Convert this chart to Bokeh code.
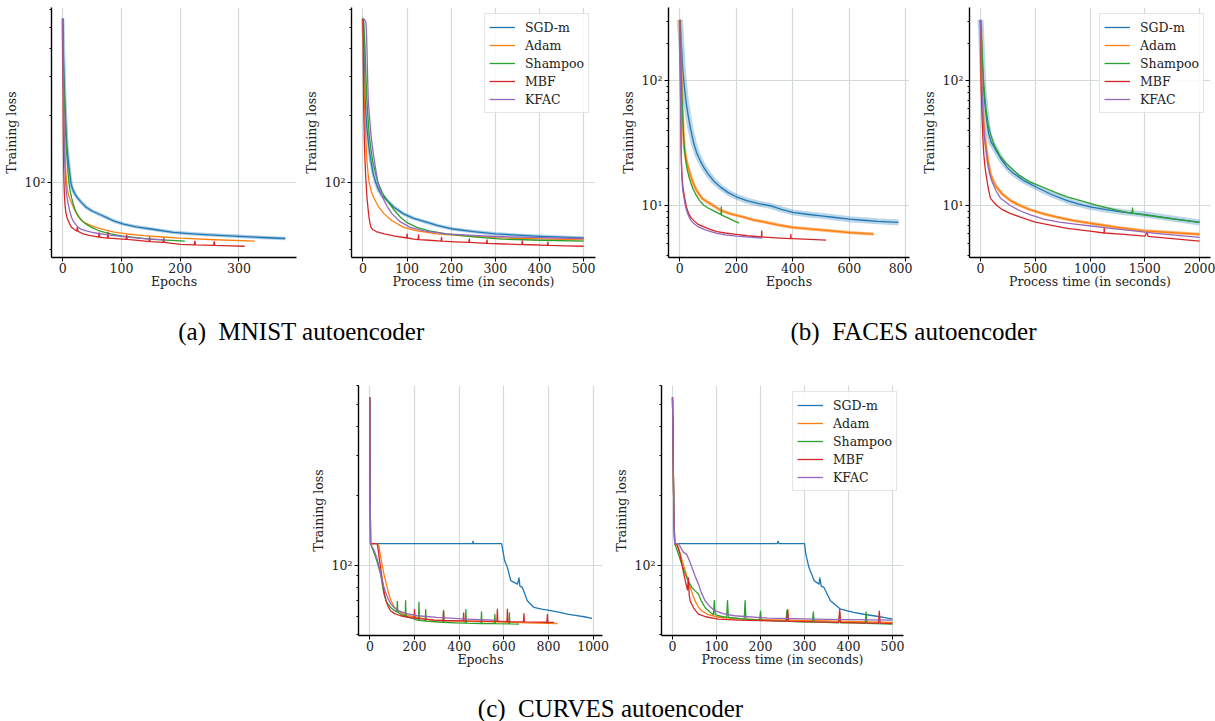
from bokeh.plotting import figure
from bokeh.models import (Range1d, FixedTicker, CustomJSTickFormatter, Legend,
                          LegendItem, Label, Spacer)
from bokeh.layouts import row, column
from bokeh.embed import file_html
from bokeh.resources import INLINE

# ---------------- data ----------------
methods = ["SGD-m", "Adam", "Shampoo", "MBF", "KFAC"]
colors = ["#1f77b4", "#ff7f0e", "#2ca02c", "#d62728", "#9467bd"]

# MNIST, epochs
mnist_ep_sgd_x = [0, 0.5, 1, 1.5, 2, 2.7, 3.4, 4.5, 5.6, 7, 8, 9.5, 11, 12.5, 14, 16, 18, 20.7, 25, 30,
                  34.6, 40, 50, 62.6, 75, 88, 104, 125, 150, 188, 220, 250, 300, 340, 379]
mnist_ep_sgd_y = [548, 480, 420, 370, 330, 285, 251, 210, 177, 150, 138, 126, 116, 107, 100, 95, 92, 89,
                  85.5, 82.5, 80, 77.5, 74.5, 72, 69.5, 67, 65, 63.2, 61.8, 59.7, 58.8, 58.2, 57.3, 56.6, 56.0]
mnist_ep_adam_x = [0, 0.5, 1, 1.5, 2, 2.5, 3, 3.7, 4.5, 5.5, 6.7, 8, 10, 12.5, 16, 20, 26, 32, 40, 48.6,
                   60, 75, 88, 110, 138, 170, 200, 260, 327]
mnist_ep_adam_y = [548, 420, 330, 270, 220, 188, 160, 140, 125, 110, 100, 93, 88, 84, 80, 75.5, 70.5,
                   67.5, 65.5, 64, 62.5, 61, 59.8, 58.7, 57.7, 56.9, 56.2, 55.3, 54.5]
mnist_ep_sham_x = [0, 0.5, 1, 1.5, 2, 2.5, 3, 3.9, 4.7, 5.5, 6.5, 7.8, 9, 10.6, 12.5, 15, 18, 22, 28, 35,
                   42, 48.6, 60, 70, 82, 100, 121, 140, 160, 185, 208]
mnist_ep_sham_y = [548, 450, 380, 310, 260, 235, 222, 211, 185, 160, 140, 126, 112, 100, 92, 86, 80,
                   74.5, 69.8, 66.5, 64.5, 63, 61, 59.8, 58.7, 57.6, 56.7, 56, 55.4, 54.9, 54.5]
mnist_ep_mbf_x = [0, 0.25, 0.5, 0.75, 1, 1.25, 1.5, 1.8, 2.2, 3, 3.9, 5, 6, 7.5, 9.5, 12, 15, 20, 24, 25,
                  26, 29, 35, 45, 55, 61, 62, 63, 65, 76, 77, 78, 90, 108, 109, 110, 132, 147, 148, 149,
                  171, 172, 173, 200, 224, 225, 226, 257, 258, 259, 285, 310]
mnist_ep_mbf_y = [548, 400, 300, 230, 180, 150, 130, 113, 100, 88, 80, 75, 72, 69.5, 67.4, 65, 63, 61.5,
                  60.5, 63, 60.4, 59.8, 58.8, 57.8, 57.2, 56.8, 59.5, 56.8, 56.7, 56.2, 59.8, 56.2, 55.9,
                  55.5, 58, 55.5, 54.8, 54.2, 56.8, 54.2, 53.8, 56.2, 53.8, 52.7, 52.4, 54.5, 52.4, 52.2,
                  54.2, 52.2, 51.9, 51.7]
mnist_ep_kfac_x = [0, 0.5, 1, 1.5, 2, 2.5, 3, 4, 5, 6, 7.5, 9.5, 12, 15, 18, 22, 26, 32, 40, 48.6, 60,
                   75, 88, 110, 143, 175]
mnist_ep_kfac_y = [548, 400, 300, 240, 190, 160, 140, 116, 100, 92, 86, 80, 74.5, 69.8, 67, 64.8, 63,
                   61.5, 60.6, 59.8, 59, 58.3, 57.7, 56.8, 55.8, 55.2]

# MNIST, process time
mnist_t_sgd_x = [0, 1, 2, 3, 4.5, 5.5, 7, 8.5, 10.4, 14, 18, 23, 29, 35, 42, 55, 70, 92, 115, 144, 170,
                 204, 250, 300, 350, 400, 450, 500]
mnist_t_sgd_y = [548, 480, 420, 340, 250, 225, 200, 180, 165, 142, 125, 110, 100, 93, 88, 83, 77.5,
                 72.3, 69, 66.3, 64, 61.8, 60.2, 58.8, 58, 57.3, 56.8, 56.3]
mnist_t_adam_x = [0, 0.75, 1.5, 2.2, 3, 4.5, 6, 7.5, 9, 11.5, 14, 19, 25, 35, 48, 65, 92, 120, 167, 230,
                  300, 400, 500]
mnist_t_adam_y = [548, 440, 350, 285, 234, 195, 165, 142, 125, 110, 100, 91, 85, 78, 72.3, 67.5, 62.9,
                  60.8, 58.8, 57.5, 56.5, 55.8, 55.2]
mnist_t_sham_x = [0, 1.5, 3, 4.5, 6, 7.5, 9, 11.5, 14, 18, 22, 28, 34, 44, 55, 70, 85, 100, 122, 150,
                  189, 250, 315, 400, 500]
mnist_t_sham_y = [548, 520, 468, 400, 330, 275, 234, 195, 165, 142, 125, 111, 100, 90, 83, 75.5, 69.8,
                  66, 62.9, 60.6, 58.8, 57, 55.7, 55, 54.5]
mnist_t_mbf_x = [0, 0.5, 1, 1.5, 2.2, 3, 4, 5, 6, 7, 9, 11, 13.5, 16, 18, 22, 30, 48, 70, 99, 100, 101,
                 115, 125, 126, 127, 150, 177, 178, 179, 210, 240, 241, 242, 280, 281, 282, 320, 360,
                 361, 362, 380, 418, 419, 420, 460, 500]
mnist_t_mbf_y = [548, 420, 300, 234, 190, 160, 135, 120, 108, 100, 86, 78, 70, 65.5, 62.9, 61.5, 60.2,
                 58.8, 57.5, 56.3, 58.6, 56.3, 55.7, 55.4, 58.2, 55.4, 55, 54.5, 56.8, 54.5, 54.1, 53.8,
                 55.8, 53.8, 53.3, 55.2, 53.3, 52.9, 52.6, 54.6, 52.6, 52.5, 52.2, 54.0, 52.2, 51.9, 51.7]
mnist_t_kfac_x = [0, 4, 6, 7, 8, 9, 10.5, 12, 15, 18, 22, 26, 30, 34, 39, 45, 55, 66, 85, 107, 140, 189,
                  250, 300, 400, 500]
mnist_t_kfac_y = [548, 540, 530, 520, 470, 400, 300, 234, 195, 165, 142, 125, 111, 100, 92, 85, 78,
                  72.3, 66.5, 62.9, 60.5, 58.8, 57.8, 57.2, 56.5, 56]

# FACES, epochs
faces_ep_sgd_x = [0, 1.5, 3.5, 5, 7, 8.5, 10, 12, 14, 17, 20, 23, 27, 32, 38, 44, 50, 60, 72, 85, 100,
                  120, 144, 170, 200, 237, 280, 319, 360, 400, 450, 500, 550, 600, 650, 700, 774]
faces_ep_sgd_y = [308, 275, 238, 205, 175, 150, 130, 114, 100, 86, 75, 66, 57.5, 49, 41.5, 36, 31.2,
                  26.5, 23, 20.3, 18, 15.8, 14.1, 12.8, 11.8, 11.0, 10.4, 10, 9.35, 8.85, 8.55, 8.3,
                  8.05, 7.8, 7.65, 7.5, 7.35]
faces_ep_adam_x = [0, 1.5, 3, 4.5, 5.8, 7.5, 9.4, 12, 15, 18, 22, 27, 33, 40, 50, 58, 68, 80, 95, 120,
                   144, 180, 226, 260, 300, 350, 400, 450, 500, 550, 600, 650, 686]
faces_ep_adam_y = [308, 240, 180, 130, 100, 75, 57, 41, 31.2, 27, 24, 21.3, 19.1, 16.8, 14.7, 13.5,
                   12.4, 11.4, 10.8, 10, 9.2, 8.6, 8.1, 7.7, 7.4, 7.0, 6.7, 6.55, 6.4, 6.25, 6.1, 6.0, 5.93]
faces_ep_sham_x = [0, 1.5, 3, 4.5, 5.8, 7.5, 9.4, 12, 15, 17.5, 20, 23, 27, 33, 40, 47, 56, 70, 85, 100,
                   120, 146, 147, 148, 170, 190, 210]
faces_ep_sham_y = [308, 240, 180, 130, 100, 75, 57, 41, 31.2, 27, 24, 21.3, 19.1, 16.8, 15, 13.6, 12.4,
                   11, 10.1, 9.6, 9.1, 8.5, 9.8, 8.4, 8.0, 7.6, 7.25]
faces_ep_mbf_x = [0, 0.75, 1.5, 2.2, 3, 3.8, 4.8, 5.8, 7, 9, 11.5, 15, 19, 25, 32, 40, 50, 65, 90, 110,
                  132, 160, 200, 240, 289, 290, 291, 300, 340, 392, 393, 394, 400, 460, 518]
faces_ep_mbf_y = [308, 220, 150, 100, 70, 45, 30, 22.9, 19, 16, 14, 12.4, 11, 9.5, 8.6, 8.0, 7.6, 7.1,
                  6.7, 6.45, 6.2, 6.05, 5.9, 5.75, 5.62, 6.3, 5.62, 5.6, 5.53, 5.45, 5.9, 5.45, 5.45,
                  5.37, 5.3]
faces_ep_kfac_x = [0, 0.75, 1.5, 2.2, 3, 3.8, 4.8, 5.8, 7, 9, 11.5, 15, 19, 25, 32, 40, 50, 65, 90, 110,
                   132, 160, 200, 245, 292]
faces_ep_kfac_y = [308, 210, 140, 95, 65, 42, 28, 21, 17.5, 14.5, 12.8, 11.5, 10.1, 9, 8.2, 7.6, 7.2,
                   6.8, 6.4, 6.2, 6.0, 5.85, 5.7, 5.6, 5.5]

# FACES, process time
faces_t_sgd_x = [0, 5, 10, 16, 24, 32, 45, 60, 76, 100, 125, 150, 190, 243, 300, 400, 517, 650, 791,
                 900, 1000, 1150, 1300, 1500, 1750, 2000]
faces_t_sgd_y = [308, 260, 200, 145, 100, 78, 60, 46, 37.5, 32, 29.5, 27, 23.5, 20.3, 18.2, 15.8, 14,
                 12.3, 11, 10.3, 9.8, 9.3, 8.9, 8.5, 7.9, 7.35]
faces_t_adam_x = [0, 3, 6, 9, 12, 18, 25, 35, 50, 70, 91, 120, 150, 200, 274, 365, 450, 578, 700, 850,
                  1065, 1250, 1492, 1750, 2000]
faces_t_adam_y = [308, 260, 200, 140, 100, 70, 50, 39, 30, 22.5, 18, 15.5, 14, 12.4, 11, 10, 9.3, 8.6,
                  8.1, 7.6, 7.1, 6.7, 6.3, 6.1, 5.9]
faces_t_sham_x = [0, 6, 12, 19, 28, 38, 50, 70, 91, 130, 180, 230, 274, 350, 450, 578, 700, 800, 913,
                  1100, 1250, 1383, 1388, 1393, 1600, 1800, 2000]
faces_t_sham_y = [308, 265, 200, 145, 100, 78, 60, 45, 37.5, 30, 25, 22, 20.3, 17.6, 15.5, 14, 12.6,
                  11.7, 11, 9.9, 9.2, 8.7, 9.6, 8.7, 8.2, 7.75, 7.35]
faces_t_mbf_x = [0, 1.5, 3, 4.5, 6, 10, 15, 22, 30, 40, 50, 70, 91, 120, 152, 200, 270, 365, 500, 650,
                 791, 1000, 1128, 1130, 1132, 1309, 1500, 1520, 1530, 1750, 2000]
faces_t_mbf_y = [308, 260, 200, 140, 100, 70, 50, 35, 26, 21, 18, 14, 11.5, 10.7, 10, 9.3, 8.7, 8.1,
                 7.4, 6.95, 6.6, 6.25, 6.05, 6.6, 6.05, 5.9, 5.7, 6.1, 5.68, 5.45, 5.2]
faces_t_kfac_x = [0, 3, 6, 9, 12, 18, 25, 35, 50, 70, 100, 140, 183, 230, 274, 350, 450, 578, 720, 883,
                  1030, 1187, 1400, 1600, 1800, 2000]
faces_t_kfac_y = [308, 260, 200, 140, 100, 70, 50, 36, 28, 20.5, 16, 13.3, 11.5, 10.7, 10, 9.2, 8.5,
                  7.8, 7.4, 7.1, 6.85, 6.6, 6.3, 6.0, 5.78, 5.57]

# CURVES, epochs
curves_ep_sgd_x = [0, 1, 2, 3, 460, 462, 464, 590, 596, 604, 616, 631, 661, 668, 672, 683, 705, 735,
                   770, 810, 850, 885, 920, 960, 995]
curves_ep_sgd_y = [535, 300, 170, 124, 124, 127, 124, 124, 115, 104, 97.7, 85.5, 82.6, 88, 81, 80, 70,
                   65.4, 64.3, 63.3, 62.2, 61.2, 60.4, 59.6, 58.6]
curves_ep_adam_x = [0, 1, 2, 3, 30, 35, 40, 45, 50, 55, 62, 70, 77, 85, 95, 108, 123, 150, 175, 200,
                    240, 287, 350, 420, 500, 600, 700, 840]
curves_ep_adam_y = [535, 300, 170, 124, 124, 123, 121, 113, 106, 100, 92, 85.5, 80, 74.8, 70, 66, 63.3,
                    61.3, 60.2, 59.5, 58.5, 57.6, 57.2, 57, 56.8, 56.5, 56.1, 55.7]
curves_ep_sham_x = [0, 1, 2, 3, 10, 20, 30, 40, 48, 55, 63, 75, 93, 110, 121, 123, 125, 138, 158, 160,
                    162, 190, 212, 218, 220, 222, 248, 250, 252, 290, 328, 330, 332, 380, 428, 430, 432,
                    498, 500, 502, 558, 560, 562, 623, 625, 627, 668]
curves_ep_sham_y = [535, 300, 170, 124, 119, 112, 105, 97, 91.4, 83, 74.8, 69, 65.4, 63.5, 62.5, 69.5,
                    62.3, 61.2, 60, 70, 60, 58.6, 57.6, 57.5, 69, 57.5, 57, 64, 57, 56.7, 56.4, 63.5,
                    56.4, 56.1, 55.9, 64, 55.9, 55.7, 62.5, 55.7, 55.6, 61, 55.6, 55.5, 62, 55.5, 55.4]
curves_ep_mbf_x = [0, 1, 2, 3, 33, 38, 43, 48, 55, 63, 72, 82, 93, 110, 138, 170, 198, 200, 202, 240,
                   287, 328, 330, 332, 418, 420, 422, 500, 569, 571, 573, 586, 614, 616, 618, 688, 690,
                   692, 750, 793, 795, 797, 825]
curves_ep_mbf_y = [535, 300, 170, 124, 124, 115, 105, 97.7, 87, 77, 70, 66, 63.3, 61.5, 60.2, 59.3,
                   58.8, 64, 58.8, 58.2, 57.6, 57.4, 63, 57.4, 57.2, 62, 57.2, 57, 56.9, 64.3, 56.9,
                   56.9, 56.8, 64.3, 56.8, 56.6, 61.5, 56.6, 56.5, 56.4, 61, 56.4, 56.3]
curves_ep_kfac_x = [0, 1, 2, 3, 10, 20, 30, 40, 50, 63, 72, 80, 93, 108, 130, 160, 212, 300, 436, 556]
curves_ep_kfac_y = [535, 300, 170, 124, 120, 115, 108, 100, 90, 80, 75.5, 72, 68, 65.4, 63.2, 61.7,
                    60.2, 59.2, 58.2, 57.6]

# CURVES, process time
curves_t_sgd_x = [0, 1.5, 3, 5, 238, 240, 242, 300, 303, 310, 322, 333, 335, 338, 344, 359, 382, 412,
                  435, 457, 480, 500]
curves_t_sgd_y = [535, 300, 170, 124, 124, 127, 124, 124, 111.6, 97.7, 85.5, 82.6, 88, 81, 80, 70,
                  64.3, 62.2, 61.1, 60.2, 59.2, 58.2]
curves_t_adam_x = [0, 1.5, 3, 5, 9, 13.5, 20, 28, 36, 43, 51, 58, 66, 80, 104, 150, 200, 300, 400, 500]
curves_t_adam_y = [535, 300, 170, 124, 122, 119, 108, 96, 85.5, 77, 70, 66, 63.3, 61, 59.3, 58.4, 57.9,
                   57.5, 56.9, 56.3]
curves_t_sham_x = [0, 1.5, 3, 5, 9, 13.5, 20, 29, 36, 44, 52, 59, 66, 74, 85, 93, 95, 97, 104, 123,
                   125, 127, 145, 163, 165, 167, 198, 200, 202, 217, 258, 260, 262, 290, 318, 320, 322,
                   350, 378, 380, 382, 410, 438, 440, 442, 500]
curves_t_sham_y = [535, 300, 170, 124, 118, 111.6, 102, 91.4, 85, 80, 77, 74.8, 69.5, 65.4, 62.5, 61,
                   70, 61, 60.2, 59.2, 70, 59.2, 58.7, 58.2, 70, 58.2, 57.6, 63, 57.6, 57.3, 56.9, 63.5,
                   56.9, 56.7, 56.5, 62.5, 56.5, 56.3, 56.1, 62, 56.1, 56, 55.8, 62.5, 55.8, 55.4]
curves_t_mbf_x = [0, 1.5, 3, 5, 10, 13, 17, 23, 29, 34, 36, 38, 40, 48, 59, 75, 104, 150, 200, 260,
                  262, 264, 300, 378, 380, 382, 420, 468, 470, 472, 500]
curves_t_mbf_y = [535, 300, 170, 124, 124, 118, 111.6, 97, 85.5, 78, 88, 74, 70, 65, 61.2, 59.6, 58.2,
                  57.6, 57.3, 57, 64, 57, 56.8, 56.3, 64, 56.3, 56.1, 55.9, 63, 55.9, 55.7]
curves_t_kfac_x = [0, 1.5, 3, 5, 13.5, 20, 25, 32, 38, 44, 52, 59, 66, 74, 85, 96, 115, 141, 217, 350, 500]
curves_t_kfac_y = [535, 300, 170, 124, 124, 118, 113.5, 111.6, 105, 97.7, 89, 82.6, 75.5, 70, 66, 63.3,
                   61.5, 60.2, 58.8, 58.1, 57.6]

# axis ticks
mnist_ep_ticks = [0, 100, 200, 300]
time500_ticks = [0, 100, 200, 300, 400, 500]
faces_ep_ticks = [0, 200, 400, 600, 800]
faces_t_ticks = [0, 500, 1000, 1500, 2000]
curves_ep_ticks = [0, 200, 400, 600, 800, 1000]
y_major_mnist = [100]
y_minor_mnist = [50, 60, 70, 80, 90, 200, 300, 400, 500, 600]
y_major_faces = [10, 100]
y_minor_faces = [4, 5, 6, 7, 8, 9, 20, 30, 40, 50, 60, 70, 80, 90, 200, 300]

# ---------------- styling helpers ----------------
SERIF = "DejaVu Serif"
FS = "12.5px"
GRID = "#d3dada"


def make_fig(width, left, right, xr, yr, xticks, ymajor, yminor, xlabel):
    p = figure(width=width, height=300, x_range=Range1d(*xr), y_range=Range1d(*yr),
               y_axis_type="log", output_backend="svg", toolbar_location=None, title=None,
               min_border_left=left, min_border_right=right, min_border_top=7,
               min_border_bottom=43)
    p.outline_line_color = None
    p.background_fill_color = "white"
    xt = FixedTicker(ticks=xticks, minor_ticks=[])
    yt = FixedTicker(ticks=ymajor, minor_ticks=yminor)
    p.xaxis.ticker = xt
    p.yaxis.ticker = yt
    p.xgrid.ticker = xt
    p.ygrid.ticker = yt
    p.yaxis.formatter = CustomJSTickFormatter(code="""
        const e = Math.round(Math.log10(tick));
        const s = {1: '¹', 2: '²', 3: '³'};
        return '10' + (s[e] || String(e));
    """)
    for ax in (p.xaxis[0], p.yaxis[0]):
        ax.axis_line_color = "black"
        ax.axis_line_width = 1.4
        ax.major_tick_line_color = "black"
        ax.major_tick_in = 0
        ax.major_tick_out = 4
        ax.minor_tick_in = 0
        ax.minor_tick_out = 2
        ax.minor_tick_line_color = "black"
        ax.major_label_text_font = SERIF
        ax.major_label_text_font_size = FS
        ax.major_label_text_color = "#222222"
        ax.axis_label_text_font = SERIF
        ax.axis_label_text_font_size = FS
        ax.axis_label_text_font_style = "normal"
        ax.axis_label_text_color = "#222222"
    p.xaxis.minor_tick_line_color = None
    p.xaxis.major_label_standoff = 1
    p.xaxis.axis_label_standoff = -2
    p.yaxis.major_label_standoff = 2
    p.yaxis.axis_label_standoff = 3
    p.xaxis.axis_label = xlabel
    p.yaxis.axis_label = "Training loss"
    p.grid.grid_line_color = GRID
    p.grid.grid_line_width = 1.2
    return p


def draw(p, xs, ys, legend=False, bands=None):
    bands = bands or {}
    rends = []
    for i, (x, y) in enumerate(zip(xs, ys)):
        if i in bands:
            bw, ba = bands[i]
            p.line(x, y, line_color=colors[i], line_width=bw, line_alpha=ba, line_join="round")
        rends.append(p.line(x, y, line_color=colors[i], line_width=1.3, line_join="round"))
    if legend:
        items = [LegendItem(label=m, renderers=[r]) for m, r in zip(methods, rends)]
        lg = Legend(items=items, location="top_right")
        lg.label_text_font = SERIF
        lg.label_text_font_size = FS
        lg.label_text_color = "#222222"
        lg.glyph_width = 26
        lg.glyph_height = 18
        lg.label_height = 18
        lg.spacing = 0
        lg.padding = 4
        lg.label_standoff = 10
        lg.margin = 6
        lg.border_line_color = "#cccccc"
        lg.border_line_width = 1
        lg.background_fill_alpha = 0.85
        p.add_layout(lg)


# ---------------- figures ----------------
p1 = make_fig(300, 48, 4, (-19, 398), (46, 614), mnist_ep_ticks, y_major_mnist, y_minor_mnist, "Epochs")
draw(p1, [mnist_ep_sgd_x, mnist_ep_adam_x, mnist_ep_sham_x, mnist_ep_mbf_x, mnist_ep_kfac_x],
     [mnist_ep_sgd_y, mnist_ep_adam_y, mnist_ep_sham_y, mnist_ep_mbf_y, mnist_ep_kfac_y],
     bands={0: (3.5, 0.35)})

p2 = make_fig(300, 47, 5, (-26, 527), (46, 614), time500_ticks, y_major_mnist, y_minor_mnist,
              "Process time (in seconds)")
draw(p2, [mnist_t_sgd_x, mnist_t_adam_x, mnist_t_sham_x, mnist_t_mbf_x, mnist_t_kfac_x],
     [mnist_t_sgd_y, mnist_t_adam_y, mnist_t_sham_y, mnist_t_mbf_y, mnist_t_kfac_y],
     legend=True, bands={0: (3.5, 0.35)})

p3 = make_fig(312, 68, 3, (-40, 813), (3.85, 387), faces_ep_ticks, y_major_faces, y_minor_faces, "Epochs")
draw(p3, [faces_ep_sgd_x, faces_ep_adam_x, faces_ep_sham_x, faces_ep_mbf_x, faces_ep_kfac_x],
     [faces_ep_sgd_y, faces_ep_adam_y, faces_ep_sham_y, faces_ep_mbf_y, faces_ep_kfac_y],
     bands={0: (6, 0.3), 1: (3, 0.6)})

p4 = make_fig(303, 57, 5, (-100, 2100), (3.85, 387), faces_t_ticks, y_major_faces, y_minor_faces,
              "Process time (in seconds)")
draw(p4, [faces_t_sgd_x, faces_t_adam_x, faces_t_sham_x, faces_t_mbf_x, faces_t_kfac_x],
     [faces_t_sgd_y, faces_t_adam_y, faces_t_sham_y, faces_t_mbf_y, faces_t_kfac_y],
     legend=True, bands={0: (6, 0.3), 1: (3, 0.6)})

p5 = make_fig(310, 58, 8, (-51, 1042), (49.4, 603), curves_ep_ticks, y_major_mnist, y_minor_mnist, "Epochs")
draw(p5, [curves_ep_sgd_x, curves_ep_adam_x, curves_ep_sham_x, curves_ep_mbf_x, curves_ep_kfac_x],
     [curves_ep_sgd_y, curves_ep_adam_y, curves_ep_sham_y, curves_ep_mbf_y, curves_ep_kfac_y])

p6 = make_fig(300, 49, 7, (-25, 525), (49.4, 603), time500_ticks, y_major_mnist, y_minor_mnist,
              "Process time (in seconds)")
draw(p6, [curves_t_sgd_x, curves_t_adam_x, curves_t_sham_x, curves_t_mbf_x, curves_t_kfac_x],
     [curves_t_sgd_y, curves_t_adam_y, curves_t_sham_y, curves_t_mbf_y, curves_t_kfac_y],
     legend=True)


def caption_fig(height, labels):
    c = figure(width=1215, height=height, x_range=Range1d(0, 1215), y_range=Range1d(0, height),
               output_backend="svg", toolbar_location=None, title=None,
               min_border=0, min_border_left=0, min_border_right=0, min_border_top=0,
               min_border_bottom=0, x_axis_location=None, y_axis_location=None)
    c.outline_line_color = None
    c.grid.visible = False
    for x, y, t in labels:
        c.add_layout(Label(x=x, y=y, text=t, text_align="center", text_baseline="middle",
                           text_font="Liberation Serif", text_font_size="25px", text_color="black"))
    return c


cap1 = caption_fig(78, [(301, 47, "(a)\u2002MNIST autoencoder"), (913, 47, "(b)\u2002FACES autoencoder")])
cap2 = caption_fig(43, [(610, 13, "(c)\u2002CURVES autoencoder")])

layout = column(row(p1, p2, p3, p4), cap1, row(Spacer(width=300, height=300), p5, p6), cap2)

open("out.html", "w").write(file_html(layout, INLINE))
